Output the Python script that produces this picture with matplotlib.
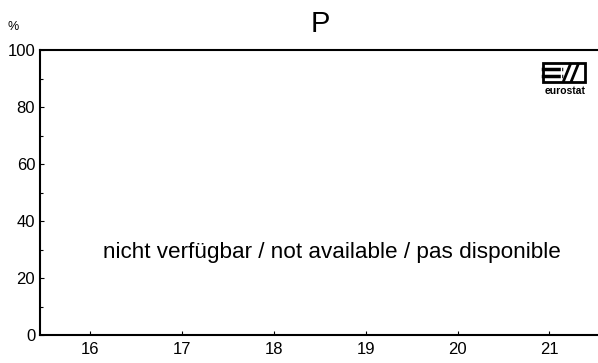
import matplotlib
matplotlib.use('Agg')
import matplotlib.pyplot as plt
from matplotlib.patches import Rectangle

x_ticks = [16, 17, 18, 19, 20, 21]
y_ticks = [0, 20, 40, 60, 80, 100]
title = 'P'
message = 'nicht verfügbar / not available / pas disponible'

plt.rcParams['font.family'] = ['Liberation Sans', 'DejaVu Sans']

fig = plt.figure(figsize=(5.98, 3.63), dpi=100)
ax = fig.add_axes([40 / 598, 1 - 335 / 363, 1 - 40 / 598, 285 / 363])

ax.set_xlim(15.45, 21.53)
ax.set_ylim(0, 100)
ax.set_xticks(x_ticks)
ax.set_yticks(y_ticks)
ax.set_yticks(range(10, 100, 20), minor=True)
ax.tick_params(axis='both', direction='in', length=3, width=0.8, labelsize=12)
ax.tick_params(axis='y', which='minor', direction='in', length=2, width=0.8)
ax.tick_params(axis='x', pad=5)
ax.spines['right'].set_visible(False)
for s in ['left', 'bottom', 'top']:
    ax.spines[s].set_linewidth(1.5)

fig.text(13 / 598, 1 - 27 / 363, '%', fontsize=9, ha='center', va='center')
fig.text(320 / 598, 1 - 24 / 363, title, fontsize=21, ha='center', va='center')
ax.text(18.63, 29, message, ha='center', va='center', fontsize=16.2)

# eurostat logo
x0, x1, y0, y1 = 0.901, 0.976, 0.888, 0.954
t = ax.transAxes
ax.add_patch(Rectangle((x0, y0), x1 - x0, y1 - y0, transform=t,
                       fill=False, lw=2, color='black'))
xm = (x0 + x1) / 2
for yy in [y0 + (y1 - y0) / 3, y0 + 2 * (y1 - y0) / 3]:
    ax.plot([x0, xm - 0.004], [yy, yy], transform=t, color='black', lw=2.5)
ax.plot([xm - 0.004, xm - 0.004], [y0 + 0.012, y1 - 0.012], transform=t, color='white', lw=1)
for dx in [0.0, 0.014]:
    ax.plot([xm + dx, xm + dx + 0.012], [y0 + 0.004, y1 - 0.004], transform=t,
            color='black', lw=2)
ax.text((x0 + x1) / 2 + 0.002, 0.856, 'eurostat', transform=t, ha='center', va='center',
        fontsize=7.5, fontweight='bold')

fig.savefig('out.png', dpi=100)
